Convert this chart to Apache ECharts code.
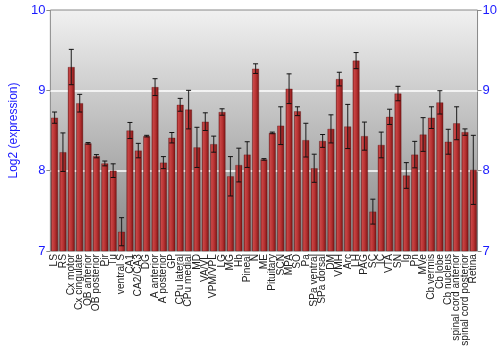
<!DOCTYPE html>
<html>
<head>
<meta charset="utf-8">
<script src="https://cdn.jsdelivr.net/npm/echarts@6/dist/echarts.min.js"></script>
<style>html,body{margin:0;padding:0;background:#fff;}#c{width:500px;height:350px;}</style>
</head>
<body>
<div id="c"></div>
<script>
const categories = ["LS","RS","Cx motor","Cx cingulate","OB anterior","OB posterior","Pir","Tu","ventral S","CA1","CA2/CA3","DG","A anterior","A posterior","GP","CPu lateral","CPu medial","MD","VA/VL","VPM/VPL","LG","MG","Hb","Pineal","N","ME","Pituitary","SCN","MPA","SO","Pa","SPa ventral","SPa dorsal","DM","VMH","Arc","LH","PAG","SC","IC","VTA","SN","Ig","Pn","MVe","Cb vermis","Cb lobe","Cb nucleus","spinal cord anterior","spinal cord posterior","Retina"];
const values = [8.66,8.23,9.29,8.84,8.34,8.18,8.09,8.00,7.24,8.50,8.25,8.43,9.04,8.10,8.41,8.82,8.76,8.29,8.61,8.33,8.73,7.93,8.07,8.20,9.27,8.14,8.47,8.56,9.02,8.74,8.38,8.03,8.37,8.52,9.14,8.55,9.37,8.43,7.49,8.32,8.67,8.96,7.94,8.20,8.45,8.66,8.85,8.36,8.59,8.48,8.01];
const errors = [0.07,0.24,0.22,0.11,0.01,0.02,0.03,0.085,0.175,0.10,0.09,0.01,0.105,0.075,0.065,0.08,0.24,0.25,0.11,0.10,0.04,0.245,0.21,0.16,0.06,0.01,0.01,0.235,0.185,0.055,0.21,0.175,0.08,0.175,0.085,0.275,0.10,0.175,0.155,0.16,0.095,0.09,0.16,0.165,0.21,0.135,0.145,0.155,0.205,0.04,0.43];
const yTicks = [7,8,9,10];

const errData = values.map((v,i)=>[i, v-errors[i], v+errors[i]]);
const chart = echarts.init(document.getElementById('c'), null, {renderer:'canvas'});
const font = '"Liberation Sans", Arial, sans-serif';
const axisY = (pos) => ({
  type:'value', position:pos, min:yTicks[0], max:yTicks[yTicks.length-1], interval:1,
  axisLine:{show:false},
  axisTick:{show:true, length:4, lineStyle:{color:'#888'}},
  axisLabel:{color:'#1a1aff', fontSize:13, fontFamily:font, margin:5},
  splitLine:{show: pos==='left', lineStyle:{color:['rgba(0,0,0,0)','#ffffff','#ffffff','rgba(0,0,0,0)'], width:1.5}}
});
const left = axisY('left');
left.name = 'Log2 (expression)';
left.nameLocation = 'middle';
left.nameGap = 20;
left.nameTextStyle = {color:'#1a1aff', fontSize:12, fontFamily:font};
chart.setOption({
  animation:false,
  backgroundColor:'#fff',
  grid:{left:35, right:20, top:10, bottom:99, show:true, borderColor:'#888', borderWidth:1,
    backgroundColor:new echarts.graphic.LinearGradient(0,0,0,1,[{offset:0,color:'#f1f1f1'},{offset:1,color:'#858585'}])},
  xAxis:{type:'category', data:categories,
    axisLine:{show:false}, axisTick:{show:false},
    axisLabel:{interval:0, rotate:90, fontSize:10.2, color:'#222', fontFamily:font, margin:3}},
  yAxis:[left, axisY('right')],
  series:[
    {type:'bar', data:values, barCategoryGap:'18%',
      itemStyle:{color:new echarts.graphic.LinearGradient(0,0,1,0,[
        {offset:0,color:'#7e1818'},{offset:0.2,color:'#c84646'},{offset:0.55,color:'#b83232'},{offset:1,color:'#7a1414'}]),
        borderColor:'rgba(90,10,10,0.6)', borderWidth:0.5}},
    {type:'custom', data:errData, z:5,
      renderItem:(params, api)=>{
        const x = api.value(0);
        const lo = api.coord([x, api.value(1)]);
        const hi = api.coord([x, api.value(2)]);
        const w = 2.5;
        const st = {stroke:'#111', lineWidth:1};
        return {type:'group', children:[
          {type:'line', shape:{x1:lo[0],y1:lo[1],x2:hi[0],y2:hi[1]}, style:{stroke:'rgba(20,20,20,0.8)', lineWidth:1.2}},
          {type:'line', shape:{x1:lo[0]-w,y1:lo[1],x2:lo[0]+w,y2:lo[1]}, style:st},
          {type:'line', shape:{x1:hi[0]-w,y1:hi[1],x2:hi[0]+w,y2:hi[1]}, style:st}
        ]};
      }}
  ]
});
</script>
</body>
</html>
